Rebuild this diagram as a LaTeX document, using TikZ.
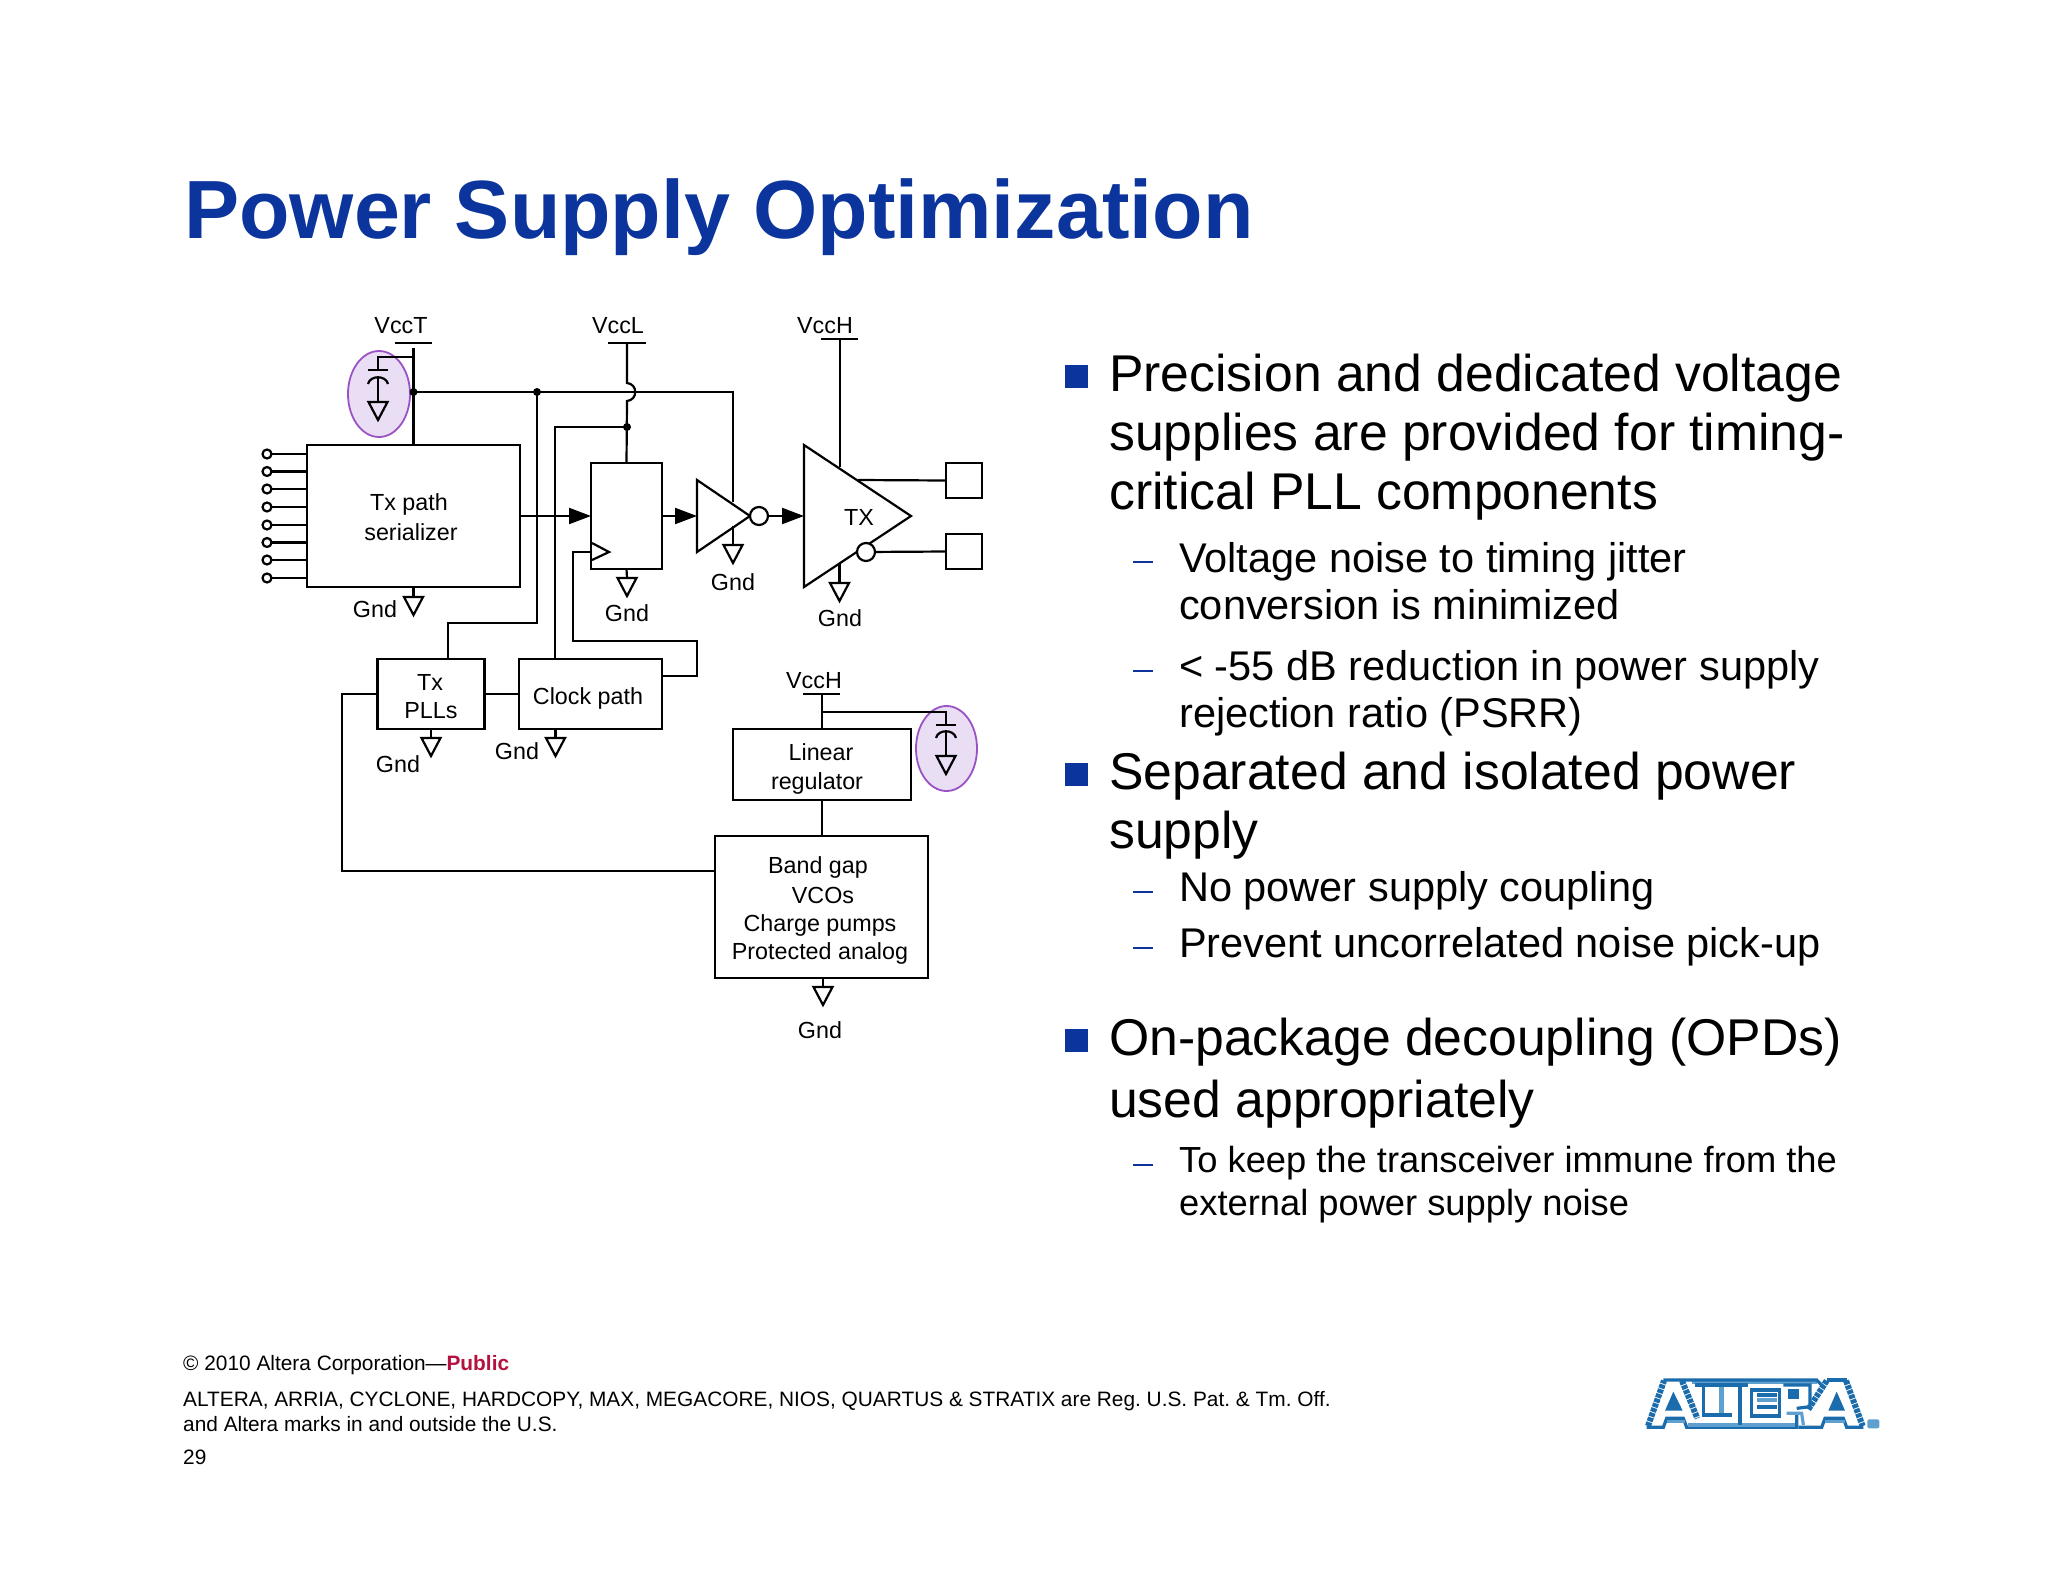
\documentclass[tikz,border=0pt]{standalone}
\usepackage{fontspec}
\setmainfont{Liberation Sans}
\usetikzlibrary{arrows.meta,shapes.geometric}
\definecolor{titleblue}{HTML}{0B349C}
\definecolor{public}{HTML}{B5123F}
\definecolor{oval}{HTML}{9A52C4}
\definecolor{ovalfill}{HTML}{EADEF5}
\definecolor{logod}{HTML}{1A6CAC}
\definecolor{logol}{HTML}{5FA0CF}
\tikzset{
  wire/.style={line width=2.2pt,black,line join=miter},
  box/.style={draw=black,line width=2.2pt,rectangle,inner sep=0pt,outer sep=0pt},
  lbl/.style={inner sep=0pt,outer sep=0pt,text height=16.7pt,text depth=0pt,font=\fontsize{23.3}{27}\selectfont},
  arr/.style={-{Triangle[length=22pt,width=16pt]}},
  dotj/.style={circle,fill=black,inner sep=0pt,minimum size=8pt},
  bubble/.style={circle,draw=black,fill=white,line width=2.2pt,inner sep=0pt,minimum size=18pt,outer sep=0pt},
  port/.style={circle,draw=black,fill=white,line width=2.2pt,inner sep=0pt,minimum size=9pt,outer sep=0pt},
  main/.style={anchor=base west,inner sep=0pt,font=\fontsize{51.7}{60}\selectfont},
  sub/.style={anchor=base west,inner sep=0pt,font=\fontsize{41.5}{48}\selectfont},
  subb/.style={anchor=base west,inner sep=0pt,font=\fontsize{36.3}{44}\selectfont},
  foot/.style={anchor=base west,inner sep=0pt,font=\frenchspacing\fontsize{20.85}{25}\selectfont},
  sq/.style={fill=titleblue},
  dsh/.style={draw=titleblue,line width=1.8pt},
  gnd/.pic={\coordinate (-t) at (0,0); \draw[wire] (-9.5,0) -- (9.5,0) -- (0,18) -- cycle;},
  ld/.style={draw=logod,line width=3.2pt},
  ll/.style={draw=logol,line width=3.2pt},
  lstep/.style={draw=logod,dash pattern=on 4pt off 1pt,line width=6pt}
}
\begin{document}
\begin{tikzpicture}[x=1pt,y=-1pt]
\useasboundingbox (0,0) rectangle (2048,1582);
\fill[white] (0,0) rectangle (2048,1582);

% title
\node[anchor=base west,inner sep=0pt,text=titleblue,font=\fontsize{82.6}{95}\selectfont\bfseries] (title) at (184,238) {Power Supply Optimization};

% decoupling ovals
\node[ellipse,draw=oval,fill=ovalfill,line width=1.8pt,minimum width=62pt,minimum height=86pt,inner sep=0pt] (ov1) at (379,394) {};
\node[ellipse,draw=oval,fill=ovalfill,line width=1.8pt,minimum width=61pt,minimum height=85pt,inner sep=0pt] (ov2) at (946.5,748.5) {};

% boxes
\node[box,minimum width=213pt,minimum height=142pt] (txp) at (413.5,516) {};
\node[box,minimum width=71pt,minimum height=106pt] (ff) at (626.5,516) {};
\node[box,minimum width=107pt,minimum height=70pt] (pll) at (431,694) {};
\node[box,minimum width=143pt,minimum height=70pt] (clk) at (590.5,694) {};
\node[box,minimum width=178pt,minimum height=71pt] (lin) at (822,764.5) {};
\node[box,minimum width=213pt,minimum height=142pt] (band) at (821.5,907) {};
\node[box,minimum width=36pt,minimum height=35pt] (p1) at (964,480.5) {};
\node[box,minimum width=36pt,minimum height=35pt] (p2) at (964,551.5) {};

% box labels
\node[lbl] (t1) at (409,502) {Tx path};
\node[lbl] (t2) at (411,532) {serializer};
\node[lbl] (t3) at (430,682) {Tx};
\node[lbl] (t4) at (431,710) {PLLs};
\node[lbl] (t5) at (588,696) {Clock path};
\node[lbl] (t6) at (821,752) {Linear};
\node[lbl] (t7) at (817,781) {regulator};
\node[lbl] (t8) at (818,865) {Band gap};
\node[lbl] (t9) at (823,895) {VCOs};
\node[lbl] (t10) at (820,923) {Charge pumps};
\node[lbl] (t11) at (820,951) {Protected analog};
\node[lbl] (t12) at (859,517) {TX};

% supply labels
\node[lbl] (vt) at (401,325) {VccT};
\node[lbl] (vl) at (618,325) {VccL};
\node[lbl] (vh) at (825,325) {VccH};
\node[lbl] (vh2) at (814,680) {VccH};

% supply bars
\coordinate (vtbar) at (413.5,348);
\coordinate (vlbar) at (627,343);
\coordinate (vhbar) at (840,339);
\coordinate (vh2bar) at (822,694);
\draw[wire] (395,343) -- (432,343);
\draw[wire] (608,343) -- (646,343);
\draw[wire] (821,339) -- (858,339);
\draw[wire] (803,694) -- (840,694);

% ports on serializer
\foreach \i/\y in {1/454,2/471.5,3/489,4/507,5/525,6/542.5,7/560,8/578}{
  \node[port] (pt\i) at (267,\y) {};
  \draw[wire] (pt\i) -- (pt\i -| txp.west);
}

% VccT net
\coordinate (j0) at (413.5,392);
\coordinate (j1) at (537,392);
\coordinate (invsup) at (733,392);
\coordinate (invtop) at (733,502);
\coordinate (pllup) at (448,623);
\draw[wire] (vtbar) -- (j0) -- (j0 |- txp.north);
\draw[wire] (j0) -- (invsup) -- (invtop);
\draw[wire] (j1) |- (pllup) -- (pllup |- pll.north);
\node[dotj] (dj0) at (j0) {};
\node[dotj] (dj1) at (j1) {};

% capacitor 1
\coordinate (c1) at (378,357);
\draw[wire] (413.5,357) -- (c1) -- (378,370);
\draw[wire] (368,370) -- (388,370);
\draw[wire] (368,384) .. controls (370,375) and (386,375) .. (388,384);
\draw[wire] (378,377) -- (378,402);
\pic (gc1) at (378,402) {gnd};

% VccL net with hop
\coordinate (j2) at (627,427);
\coordinate (clkup) at (555,427);
\draw[wire] (vlbar) -- (627,383) .. controls (638,384) and (638,400) .. (627,401) -- (ff.north);
\node[dotj] (dj2) at (j2) {};
\draw[wire] (j2) -- (clkup) -- (clkup |- clk.north);

% signal path
\draw[wire,arr] (txp.east) -- (ff.west);
\coordinate (inva) at (697,480);
\coordinate (invb) at (697,552);
\coordinate (invc) at (750,516);
\draw[wire] (inva) -- (invc) -- (invb) -- cycle;
\draw[wire,arr] (ff.east) -- (inva |- ff.east);
\node[bubble] (b1) at (759,516) {};
\coordinate (txa) at (804,445);
\coordinate (txb) at (804,587);
\coordinate (txc) at (911,516);
\draw[wire] (txa) -- (txc) -- (txb) -- cycle;
\draw[wire,arr] (b1) -- (txa |- b1);
\node[bubble] (b2) at (866,552) {};
\draw[wire] (b2) -- (p2.west);
\draw[wire] (858,480) -- (p1.west);
\draw[wire] (vhbar) -- (840,467);

% clock pin
\coordinate (clkin) at (662,676);
\draw[wire] (592,543) -- (609,552) -- (592,560);
\draw[wire] (591,552) -- (573,552) |- (697,641) |- (clkin);

% inter-block
\coordinate (bandin) at (715,871);
\draw[wire] (pll.east) -- (clk.west);
\draw[wire] (pll.west) -- (342,694) |- (bandin);
\draw[wire] (vh2bar) -- (vh2bar |- lin.north);
\draw[wire] (vh2bar |- lin.south) -- (vh2bar |- band.north);

% capacitor 2
\coordinate (c2) at (946,712);
\draw[wire] (822,712) -- (c2) -- (946,725);
\draw[wire] (936,725) -- (956,725);
\draw[wire] (936,738) .. controls (938,729) and (954,729) .. (956,738);
\draw[wire] (946,732) -- (946,756);
\pic (gc2) at (946,756) {gnd};

% grounds
\pic (g1) at (413.5,597) {gnd}; \draw[wire] (g1-t |- txp.south) -- (g1-t);
\pic (g2) at (627,578) {gnd};   \draw[wire] (ff.south) -- (g2-t);
\pic (g3) at (733,545) {gnd};   \draw[wire] (733,526) -- (g3-t);
\pic (g4) at (839.5,583) {gnd}; \draw[wire] (839.5,563) -- (g4-t);
\pic (g5) at (431,738) {gnd};   \draw[wire] (g5-t |- pll.south) -- (g5-t);
\pic (g6) at (555.5,738) {gnd}; \draw[wire] (g6-t |- clk.south) -- (g6-t);
\pic (g7) at (823,987) {gnd};   \draw[wire] (g7-t |- band.south) -- (g7-t);

\node[lbl] (l1) at (375,609) {Gnd};
\node[lbl] (l2) at (627,613) {Gnd};
\node[lbl] (l3) at (733,582) {Gnd};
\node[lbl] (l4) at (840,618) {Gnd};
\node[lbl] (l5) at (398,764) {Gnd};
\node[lbl] (l6) at (517,751) {Gnd};
\node[lbl] (l7) at (820,1030) {Gnd};

% bullets
\fill[sq] (1065,365) rectangle (1088,388);
\fill[sq] (1065,763) rectangle (1088,786);
\fill[sq] (1065,1029) rectangle (1088,1052);
\foreach \y in {562,671,892,948,1165}{ \draw[dsh] (1133,\y) -- (1153,\y); }

\node[main] (m1) at (1109,391.5) {Precision and dedicated voltage};
\node[main] (m2) at (1109,450.5) {supplies are provided for timing-};
\node[main] (m3) at (1109,509.5) {critical PLL components};
\node[sub] (s1) at (1179,572) {Voltage noise to timing jitter};
\node[sub] (s2) at (1179,619.5) {conversion is minimized};
\node[sub] (s3) at (1179,680.5) {< -55 dB reduction in power supply};
\node[sub] (s4) at (1179,727.5) {rejection ratio (PSRR)};
\node[main] (m4) at (1109,789.5) {Separated and isolated power};
\node[main] (m5) at (1109,848.5) {supply};
\node[sub] (s5) at (1179,901.5) {No power supply coupling};
\node[sub] (s6) at (1179,957.5) {Prevent uncorrelated noise pick-up};
\node[main] (m6) at (1109,1055) {On-package decoupling (OPDs)};
\node[main] (m7) at (1109,1117) {used appropriately};
\node[subb] (s7) at (1179,1172) {To keep the transceiver immune from the};
\node[subb] (s8) at (1179,1215) {external power supply noise};

% footer
\node[foot] (f1) at (183,1370) {© 2010 Altera Corporation—\textcolor{public}{\bfseries Public}};
\node[foot] (f2) at (183,1406) {ALTERA, ARRIA, CYCLONE, HARDCOPY, MAX, MEGACORE, NIOS, QUARTUS \& STRATIX are Reg. U.S. Pat. \& Tm. Off.};
\node[foot] (f3) at (183,1431) {and Altera marks in and outside the U.S.};
\node[foot] (f4) at (183,1464) {29};

% logo
\begin{scope}[shift={(1620,1350)},x=1/3*1pt,y=-1/3*1pt]
  \draw[ll] (215,97)--(590,97);
  \draw[ld] (130,90)--(590,90)--(608,108);
  \draw[lstep] (84,228)--(132,92);
  \draw[lstep] (186,92)--(232,205);
  \draw[ld] (80,232)--(130,232)--(140,205)--(190,205)--(200,232)--(530,232)--(530,195);
  \draw[ll] (140,214)--(195,214);
  \draw[ll] (205,225)--(525,225);
  \fill[logod] (160,125)--(135,182)--(188,182)--cycle;
  \draw[ld] (250,105)--(250,195)--(335,195);
  \draw[ll,line width=5pt] (305,112)--(305,188);
  \draw[ld] (225,105)--(385,105);
  \draw[ld] (360,105)--(360,225);
  \draw[ld] (395,120)--(478,120)--(478,198)--(395,198)--cycle;
  \draw[ll] (412,150)--(470,150);
  \draw[ld] (412,135)--(470,135);
  \draw[ld,line width=4pt] (412,170)--(470,170);
  \draw[ld] (490,105)--(570,105)--(570,170)--(530,175);
  \draw[ll] (500,190)--(545,190)--(550,225);
  \fill[logod] (505,118) rectangle (538,148);
  \draw[lstep] (620,92)--(565,178);
  \draw[lstep] (678,92)--(728,228);
  \draw[ld] (622,90)--(680,90);
  \draw[ld] (730,232)--(680,232)--(670,205)--(615,205)--(605,232)--(535,232);
  \draw[ll] (615,214)--(675,214);
  \fill[logod] (650,125)--(625,182)--(675,182)--cycle;
  \fill[logol,rounded corners=2pt] (742,208) rectangle (778,235);
\end{scope}
\end{tikzpicture}
\end{document}
